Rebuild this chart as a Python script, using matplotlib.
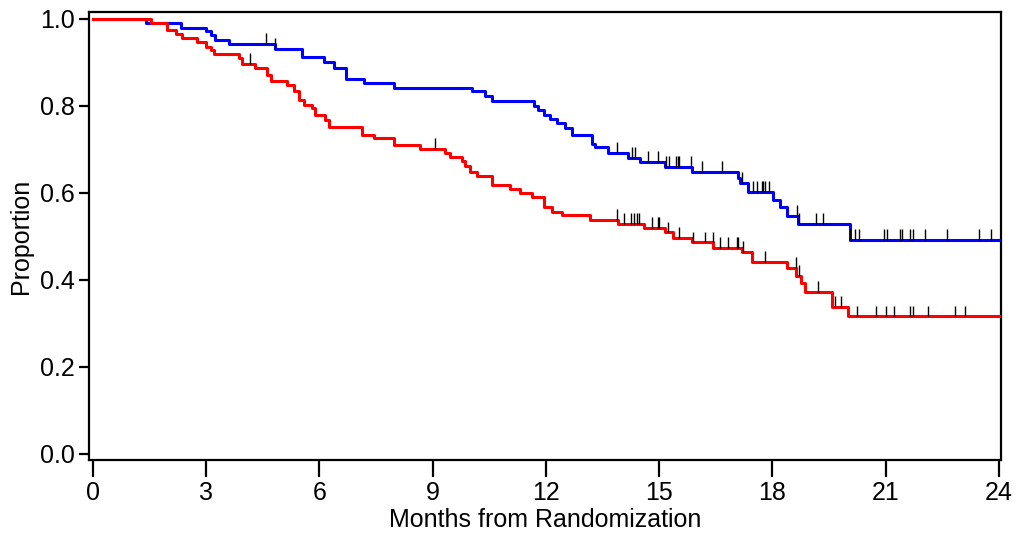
import numpy as np
import matplotlib
matplotlib.use("Agg")
import matplotlib.pyplot as plt

plt.rcParams['font.family'] = ['Liberation Sans', 'DejaVu Sans']

# blue arm - step times (months) and survival after each step
t_blue = [0, 1.4, 2.33, 2.99, 3.12, 3.25, 3.6, 4.84, 5.55, 6.12, 6.4, 6.7, 7.18, 7.97,
          10.04, 10.4, 10.57, 11.7, 11.8, 11.95, 12.1, 12.3, 12.5, 12.69, 13.22, 13.3,
          13.66, 14.18, 14.5, 15.16, 15.86, 17.09, 17.14, 17.35, 18.02, 18.2, 18.38,
          18.69, 20.05, 24]
s_blue = [1.0, 0.99, 0.979, 0.971, 0.962, 0.952, 0.942, 0.930, 0.912, 0.90, 0.887, 0.862,
          0.852, 0.842, 0.833, 0.822, 0.812, 0.80, 0.79, 0.779, 0.770, 0.760, 0.75, 0.733,
          0.712, 0.705, 0.691, 0.681, 0.670, 0.659, 0.647, 0.634, 0.622, 0.603, 0.584,
          0.567, 0.547, 0.529, 0.492, 0.492]
cens_blue = [4.58, 4.84, 13.88, 14.28, 14.36, 14.72, 14.97, 15.18, 15.26, 15.45, 15.5,
             15.53, 15.84, 16.15, 16.68, 17.2, 17.5, 17.6, 17.72, 17.76, 17.8, 17.9,
             18.65, 18.72, 19.17, 19.35, 20.05, 20.2, 20.29, 20.95, 21.04, 21.37, 21.43,
             21.64, 21.73, 22.04, 22.62, 23.47, 23.78]

# red arm
t_red = [0, 1.53, 1.98, 2.2, 2.37, 2.77, 2.99, 3.12, 3.21, 3.87, 3.96, 4.31, 4.62, 4.71,
         5.15, 5.33, 5.46, 5.59, 5.81, 5.9, 6.16, 6.25, 7.13, 7.44, 7.97, 8.68, 9.34,
         9.47, 9.78, 9.87, 10.0, 10.18, 10.57, 11.06, 11.32, 11.63, 11.94, 12.16, 12.43,
         13.17, 13.92, 14.59, 15.16, 15.38, 15.86, 16.44, 17.19, 17.45, 18.38, 18.64,
         18.77, 18.86, 19.57, 20.01, 24]
s_red = [1.0, 0.99, 0.975, 0.965, 0.955, 0.946, 0.936, 0.929, 0.92, 0.91, 0.896, 0.887,
         0.871, 0.857, 0.848, 0.833, 0.814, 0.802, 0.795, 0.779, 0.768, 0.752, 0.733,
         0.726, 0.709, 0.70, 0.691, 0.682, 0.672, 0.661, 0.647, 0.638, 0.618, 0.608,
         0.60, 0.591, 0.568, 0.557, 0.549, 0.538, 0.529, 0.519, 0.509, 0.497, 0.486,
         0.473, 0.465, 0.442, 0.427, 0.408, 0.392, 0.373, 0.337, 0.316, 0.316]
cens_red = [4.16, 9.07, 13.88, 14.06, 14.26, 14.33, 14.41, 14.48, 14.81, 14.97, 15.01,
            15.25, 15.54, 15.89, 16.22, 16.42, 16.61, 16.84, 17.06, 17.1, 17.23, 17.82,
            18.62, 18.72, 19.2, 19.66, 19.81, 20.25, 20.76, 21.0, 21.23, 21.64, 21.73,
            22.12, 22.83, 23.1]

x_ticks = [0, 3, 6, 9, 12, 15, 18, 21, 24]
y_ticks = [0.0, 0.2, 0.4, 0.6, 0.8, 1.0]


def level_at(t, s, x):
    idx = np.searchsorted(t, x, side='right') - 1
    return np.array(s)[idx]


fig = plt.figure(figsize=(10.18, 5.37), dpi=100)
ax = fig.add_axes([0.0874, 0.1434, 0.8956, 0.8346])

ax.step(t_blue, s_blue, where='post', color='#0000ff', lw=2.2, zorder=3)
ax.step(t_red, s_red, where='post', color='#ff0000', lw=2.2, zorder=4)

for t, s, c in [(t_blue, s_blue, cens_blue), (t_red, s_red, cens_red)]:
    lv = level_at(t, s, c)
    ax.vlines(c, lv, lv + 0.025, color='black', lw=1.0, zorder=5)

ax.set_xlim(-0.1, 24.05)
ax.set_ylim(-0.014, 1.016)
ax.set_xticks(x_ticks)
ax.set_xticklabels([str(v) for v in x_ticks])
ax.set_yticks(y_ticks)
ax.set_yticklabels(['%.1f' % v for v in y_ticks])

for sp in ax.spines.values():
    sp.set_linewidth(1.6)
ax.tick_params(axis='x', length=12, width=1.6, labelsize=18, pad=3)
ax.tick_params(axis='y', length=7, width=1.6, labelsize=18, pad=3)

ax.set_xlabel('Months from Randomization', fontsize=18, labelpad=2)
ax.set_ylabel('Proportion', fontsize=18, labelpad=5)

fig.savefig('out.png', dpi=100)
